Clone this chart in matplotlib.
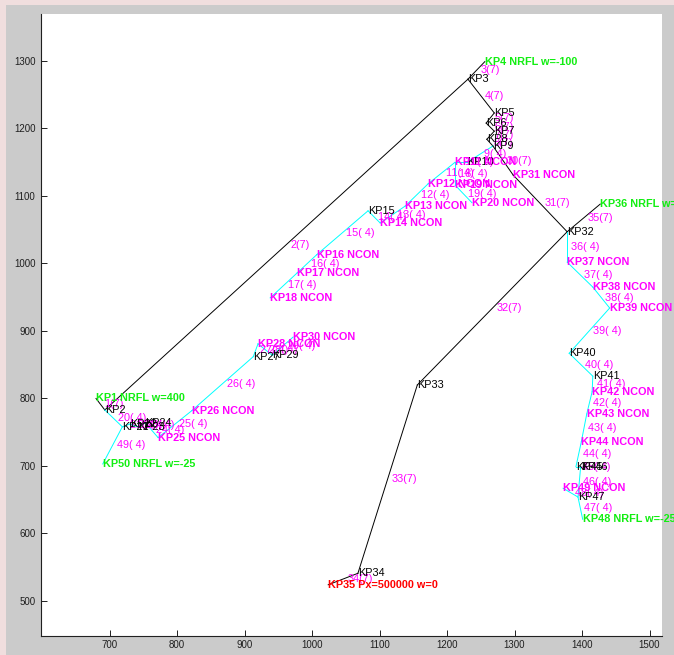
import matplotlib
matplotlib.use("Agg")
import matplotlib.pyplot as plt
from matplotlib.patches import Rectangle

plt.rcParams['font.family'] = ['Liberation Sans', 'DejaVu Sans']

# ---- node data (KP1 .. KP50) ----
node_x = [680, 693, 1231, 1256, 1270, 1258, 1270, 1259, 1268, 1230,
          1212, 1172, 1138, 1101, 1083, 1007, 978, 938, 1212, 1237,
          719, 730, 742, 753, 772, 822, 913, 920, 941, 972,
          1298, 1378, 1156, 1068, 1024, 1427, 1378, 1416, 1441, 1381,
          1416, 1415, 1407, 1399, 1391, 1398, 1394, 1401, 1372, 690]
node_y = [800, 783, 1273, 1299, 1223, 1208, 1196, 1184, 1174, 1150,
          1150, 1118, 1085, 1060, 1078, 1013, 986, 949, 1116, 1090,
          758, 762, 758, 764, 742, 782, 862, 881, 864, 891,
          1131, 1047, 820, 541, 524, 1088, 1002, 965, 934, 867,
          833, 810, 777, 736, 699, 699, 654, 621, 667, 703]
# node type: 'p' plain, 'n' NCON, 'f' NRFL, 'x' pressure node
node_type = ['f', 'p', 'p', 'f', 'p', 'p', 'p', 'p', 'p', 'p',
             'n', 'n', 'n', 'n', 'p', 'n', 'n', 'n', 'n', 'n',
             'p', 'p', 'p', 'p', 'n', 'n', 'p', 'n', 'p', 'n',
             'n', 'p', 'p', 'p', 'x', 'f', 'n', 'n', 'n', 'p',
             'p', 'n', 'n', 'n', 'p', 'p', 'p', 'f', 'n', 'f']
node_suffix = {1: ' NRFL w=400', 4: ' NRFL w=-100', 36: ' NRFL w=-100',
               48: ' NRFL w=-25', 50: ' NRFL w=-25', 35: ' Px=500000 w=0'}

# ---- element data (1 .. 49) ----
elem_from = [1, 2, 3, 3, 5, 6, 7, 8, 9, 10,
             11, 12, 13, 14, 15, 16, 17, 11, 19, 2,
             21, 22, 23, 24, 25, 26, 27, 28, 29, 9,
             31, 32, 33, 34, 32, 32, 37, 38, 39, 40,
             41, 42, 43, 44, 45, 46, 47, 47, 21]
elem_to = [2, 3, 4, 5, 6, 7, 8, 9, 10, 11,
           12, 13, 14, 15, 16, 17, 18, 19, 20, 21,
           22, 23, 24, 25, 26, 27, 28, 29, 30, 31,
           32, 33, 34, 35, 36, 37, 38, 39, 40, 41,
           42, 43, 44, 45, 46, 47, 48, 49, 50]
elem_dia = [7, 7, 7, 7, 7, 7, 7, 7, 4, 4,
            4, 4, 4, 4, 4, 4, 4, 4, 4, 4,
            4, 4, 4, 4, 4, 4, 4, 4, 4, 7,
            7, 7, 7, 7, 7, 4, 4, 4, 4, 4,
            4, 4, 4, 4, 4, 4, 4, 4, 4]

x_ticks = [700, 800, 900, 1000, 1100, 1200, 1300, 1400, 1500]
y_ticks = [500, 600, 700, 800, 900, 1000, 1100, 1200, 1300]

W, H = 674, 655
fig = plt.figure(figsize=(W / 100, H / 100), dpi=100, facecolor='#cbcbcb')
# window frame tint at left / top
fig.patches.append(Rectangle((0, 0), 6 / W, 1, transform=fig.transFigure,
                             facecolor='#f0dede', edgecolor='none', zorder=0))
fig.patches.append(Rectangle((0, 1 - 5 / H), 1, 5 / H, transform=fig.transFigure,
                             facecolor='#f0dede', edgecolor='none', zorder=0))

ax = fig.add_axes([41 / W, 1 - 636 / H, 621 / W, 622 / H])
ax.set_facecolor('white')
ax.set_xlim(598.5, 1518.5)
ax.set_ylim(448.1, 1369.6)
ax.spines['top'].set_visible(False)
ax.spines['right'].set_visible(False)
for s in ('left', 'bottom'):
    ax.spines[s].set_color('#202020')
    ax.spines[s].set_linewidth(0.8)
ax.set_xticks(x_ticks)
ax.set_yticks(y_ticks)
ax.set_xticklabels([str(v) for v in x_ticks])
ax.set_yticklabels([str(v) for v in y_ticks])
ax.tick_params(direction='in', length=4, width=0.7, labelsize=7,
               colors='#202020', pad=4)
ax.tick_params(axis='x', pad=3)

fs = 7.8
magenta = '#ff00ff'

# elements
for i, (a, b, d) in enumerate(zip(elem_from, elem_to, elem_dia)):
    xa, ya = node_x[a - 1], node_y[a - 1]
    xb, yb = node_x[b - 1], node_y[b - 1]
    col = 'black' if d == 7 else '#00ffff'
    ax.plot([xa, xb], [ya, yb], color=col, lw=0.7, zorder=2)
    xm, ym = (xa + xb) / 2, (ya + yb) / 2
    ax.text(xm + 6, ym, f"{i + 1}( {d})" if d == 4 else f"{i + 1}({d})",
            color=magenta, fontsize=fs, ha='left', va='center', zorder=3)

# nodes
for i, (x, y, t) in enumerate(zip(node_x, node_y, node_type)):
    k = i + 1
    if t == 'p':
        ax.text(x, y, f"KP{k}", color='black', fontsize=fs,
                ha='left', va='center', zorder=4)
    elif t == 'n':
        ax.text(x, y, f"KP{k} NCON", color=magenta, fontsize=fs,
                fontweight='bold', ha='left', va='center', zorder=4)
    elif t == 'f':
        ax.text(x, y, f"KP{k}" + node_suffix[k], color='#11ee11', fontsize=fs,
                fontweight='bold', ha='left', va='center', zorder=4)
    else:
        ax.text(x, y, f"KP{k}" + node_suffix[k], color='#ff0000', fontsize=fs,
                fontweight='bold', ha='left', va='center', zorder=4)

fig.savefig('out.png', dpi=100, facecolor=fig.get_facecolor())
